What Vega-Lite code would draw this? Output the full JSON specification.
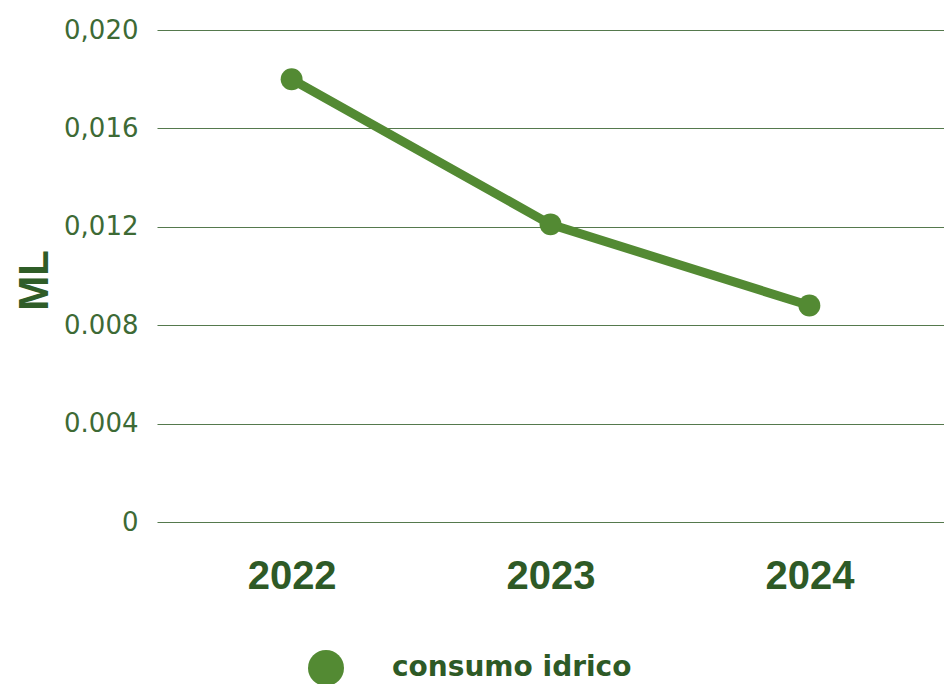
{
  "$schema": "https://vega.github.io/schema/vega-lite/v6.json",
  "width": 787,
  "height": 492,
  "autosize": {"type": "none"},
  "padding": {"left": 157, "top": 30, "right": 0, "bottom": 162},
  "background": "white",
  "config": {"view": {"stroke": null}},
  "data": {
    "values": [
      {"anno": "2022", "valore": 0.0180, "serie": "consumo idrico"},
      {"anno": "2023", "valore": 0.0121, "serie": "consumo idrico"},
      {"anno": "2024", "valore": 0.0088, "serie": "consumo idrico"}
    ]
  },
  "encoding": {
    "x": {
      "field": "anno", "type": "ordinal",
      "scale": {"type": "point", "padding": 0.52},
      "axis": {
        "title": null, "domain": false, "ticks": false, "labelAngle": 0,
        "labelFont": "Liberation Sans", "labelFontWeight": "bold", "labelFontSize": 40,
        "labelColor": "#2e5a26", "labelPadding": 34
      }
    },
    "y": {
      "field": "valore", "type": "quantitative",
      "scale": {"domain": [0, 0.02], "nice": false},
      "axis": {
        "title": "ML", "values": [0, 0.004, 0.008, 0.012, 0.016, 0.02],
        "labelExpr": "datum.value == 0 ? '0' : (datum.value < 0.01 ? format(datum.value, '.3f') : replace(format(datum.value, '.3f'), '.', ','))",
        "domain": false, "ticks": false, "grid": true, "gridColor": "#55794d", "gridWidth": 1.2,
        "labelFont": "DejaVu Sans", "labelFontSize": 26, "labelColor": "#3d6a35", "labelPadding": 19,
        "titleFont": "Liberation Sans", "titleFontWeight": "bold", "titleFontSize": 42, "titleColor": "#2f5d28",
        "titleAngle": 270, "titleBaseline": "middle", "titleAlign": "center", "titleX": -123, "titleY": 250
      }
    }
  },
  "layer": [
    {
      "mark": {"type": "line", "color": "#538a33", "strokeWidth": 9}
    },
    {
      "mark": {"type": "point", "filled": true, "size": 480, "opacity": 1},
      "encoding": {
        "color": {
          "field": "serie", "type": "nominal",
          "scale": {"range": ["#538a33"]},
          "legend": {
            "title": null, "orient": "none", "legendX": 150, "legendY": 619,
            "symbolType": "circle", "symbolSize": 1296, "symbolOpacity": 1,
            "labelFont": "DejaVu Sans", "labelFontWeight": "bold", "labelFontSize": 28,
            "labelColor": "#2e5a26", "labelOffset": 47, "labelLimit": 500
          }
        }
      }
    }
  ]
}
